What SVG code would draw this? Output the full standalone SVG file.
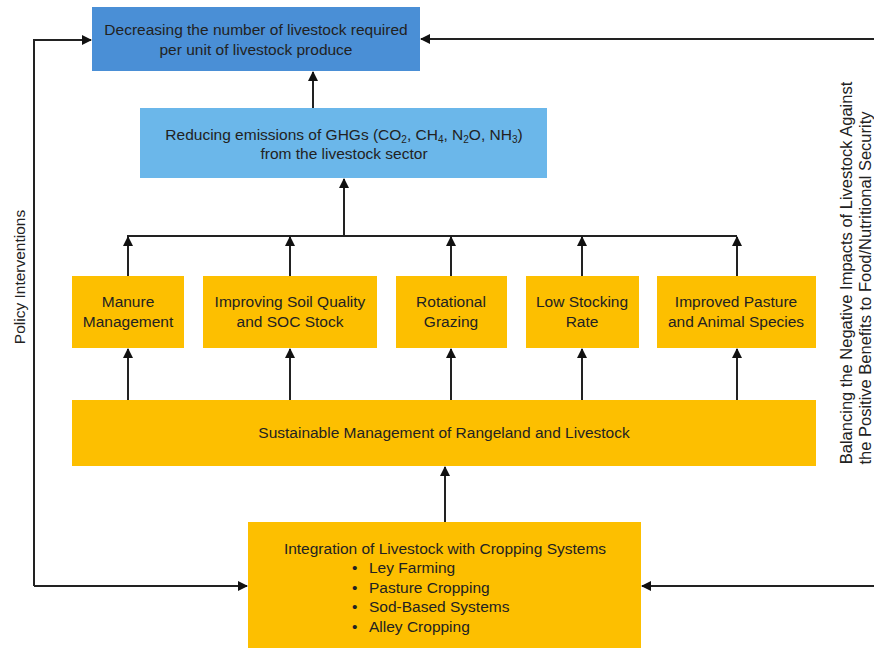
<svg xmlns="http://www.w3.org/2000/svg" width="874" height="648" viewBox="0 0 874 648">
<defs>
<style>
text{font-family:"Liberation Sans",Arial,sans-serif;font-size:15.5px;fill:#222;}
.c{text-anchor:middle;}
.r{font-size:16.5px;}
.y{fill:#fdbf00;}
.ln{stroke:#222;stroke-width:2;fill:none;}
</style>
<marker id="ah" viewBox="0 0 10 10" refX="9" refY="5" markerWidth="10" markerHeight="10" markerUnits="userSpaceOnUse" orient="auto">
<path d="M0,0 L10,5 L0,10 z" fill="#111"/>
</marker>
</defs>
<rect width="874" height="648" fill="#fff"/>
<g id="connectors">
<path class="ln" d="M313,108 V72" marker-end="url(#ah)"/>
<path class="ln" d="M344,236 V179" marker-end="url(#ah)"/>
<path class="ln" d="M127,236 H737"/>
<path class="ln" d="M128,276 V237" marker-end="url(#ah)"/>
<path class="ln" d="M290,276 V237" marker-end="url(#ah)"/>
<path class="ln" d="M451,276 V237" marker-end="url(#ah)"/>
<path class="ln" d="M582,276 V237" marker-end="url(#ah)"/>
<path class="ln" d="M737,276 V237" marker-end="url(#ah)"/>
<path class="ln" d="M128,400 V349" marker-end="url(#ah)"/>
<path class="ln" d="M290,400 V349" marker-end="url(#ah)"/>
<path class="ln" d="M451,400 V349" marker-end="url(#ah)"/>
<path class="ln" d="M582,400 V349" marker-end="url(#ah)"/>
<path class="ln" d="M737,400 V349" marker-end="url(#ah)"/>
<path class="ln" d="M445,522 V467" marker-end="url(#ah)"/>
<path class="ln" d="M34,586 V40 H91" marker-end="url(#ah)"/>
<path class="ln" d="M34,586 H247" marker-end="url(#ah)"/>
<path class="ln" d="M874,39 H421" marker-end="url(#ah)"/>
<path class="ln" d="M874,586 H642" marker-end="url(#ah)"/>
</g>
<g id="n-decreasing">
<rect x="92" y="7" width="328" height="64" fill="#4a8fd6"/>
<text class="c" x="256" y="35">Decreasing the number of livestock required</text>
<text class="c" x="256" y="55">per unit of livestock produce</text>
</g>
<g id="n-reducing">
<rect x="140" y="108" width="407" height="70" fill="#6bb7ea"/>
<text class="c" x="344" y="140">Reducing emissions of GHGs (CO<tspan font-size="10" dy="3">2</tspan><tspan dy="-3">, CH</tspan><tspan font-size="10" dy="3">4</tspan><tspan dy="-3">, N</tspan><tspan font-size="10" dy="3">2</tspan><tspan dy="-3">O, NH</tspan><tspan font-size="10" dy="3">3</tspan><tspan dy="-3">)</tspan></text>
<text class="c" x="344" y="159">from the livestock sector</text>
</g>
<g id="n-manure">
<rect class="y" x="72" y="276" width="112" height="72"/>
<text class="c" x="128" y="307">Manure</text>
<text class="c" x="128" y="327">Management</text>
</g>
<g id="n-soil">
<rect class="y" x="203" y="276" width="174" height="72"/>
<text class="c" x="290" y="307">Improving Soil Quality</text>
<text class="c" x="290" y="327">and SOC Stock</text>
</g>
<g id="n-rotational">
<rect class="y" x="396" y="276" width="111" height="72"/>
<text class="c" x="451" y="307">Rotational</text>
<text class="c" x="451" y="327">Grazing</text>
</g>
<g id="n-stocking">
<rect class="y" x="526" y="276" width="113" height="72"/>
<text class="c" x="582" y="307">Low Stocking</text>
<text class="c" x="582" y="327">Rate</text>
</g>
<g id="n-pasture">
<rect class="y" x="657" y="276" width="159" height="72"/>
<text class="c" x="736" y="307">Improved Pasture</text>
<text class="c" x="736" y="327">and Animal Species</text>
</g>
<g id="n-sustainable">
<rect class="y" x="72" y="400" width="744" height="66"/>
<text class="c" x="444" y="438">Sustainable Management of Rangeland and Livestock</text>
</g>
<g id="n-integration">
<rect class="y" x="248" y="522" width="393" height="130"/>
<text class="c" x="445" y="554">Integration of Livestock with Cropping Systems</text>
<text x="352" y="573">•</text><text x="369" y="573">Ley Farming</text>
<text x="352" y="593">•</text><text x="369" y="593">Pasture Cropping</text>
<text x="352" y="612">•</text><text x="369" y="612">Sod-Based Systems</text>
<text x="352" y="632">•</text><text x="369" y="632">Alley Cropping</text>
</g>
<g id="labels">
<text class="c" transform="translate(25,277) rotate(-90)">Policy Interventions</text>
<text class="c r" transform="translate(852,273) rotate(-90)">Balancing the Negative Impacts of Livestock Against</text>
<text class="c r" transform="translate(871,288) rotate(-90)">the Positive Benefits to Food/Nutritional Security</text>
</g>
</svg>
